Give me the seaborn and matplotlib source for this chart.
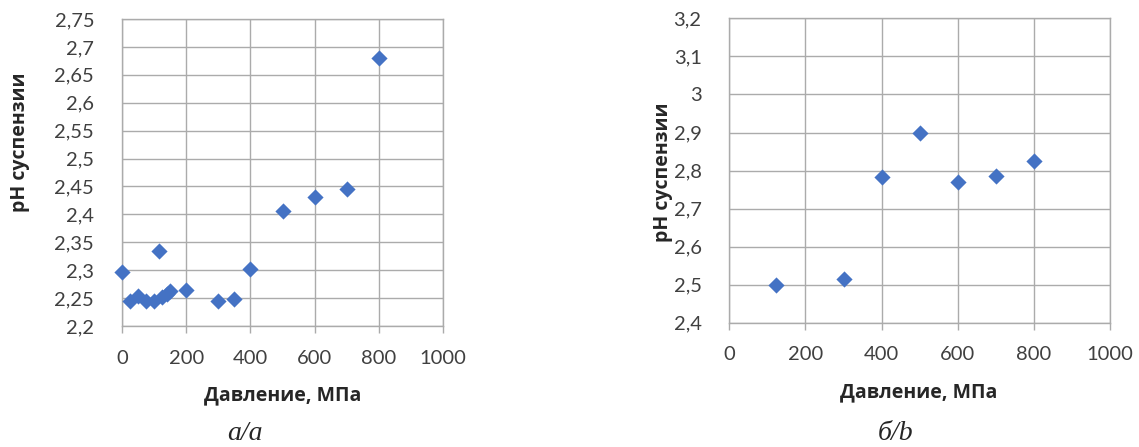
import matplotlib
matplotlib.use("Agg")
import matplotlib.pyplot as plt
import seaborn as sns
import pandas as pd
import numpy as np

# Data panel a
pressure_a = [0, 25, 50, 75, 100, 115, 125, 140, 150, 200, 300, 350, 400, 500, 600, 700, 800]
ph_a = [2.297, 2.244, 2.253, 2.244, 2.244, 2.334, 2.252, 2.258, 2.263, 2.264, 2.244, 2.248, 2.303, 2.406, 2.431, 2.446, 2.681]
# Data panel b
pressure_b = [122, 300, 400, 500, 600, 700, 800]
ph_b = [2.499, 2.514, 2.783, 2.900, 2.771, 2.786, 2.825]

yticks_a = [2.2, 2.25, 2.3, 2.35, 2.4, 2.45, 2.5, 2.55, 2.6, 2.65, 2.7, 2.75]
ytick_labels_a = ["2,2", "2,25", "2,3", "2,35", "2,4", "2,45", "2,5", "2,55", "2,6", "2,65", "2,7", "2,75"]
yticks_b = [2.4, 2.5, 2.6, 2.7, 2.8, 2.9, 3.0, 3.1, 3.2]
ytick_labels_b = ["2,4", "2,5", "2,6", "2,7", "2,8", "2,9", "3", "3,1", "3,2"]
xticks = [0, 200, 400, 600, 800, 1000]
xlabel = "Давление, МПа"
ylabel = "pH суспензии"
captions = ["а/a", "б/b"]

sns.set_style("white")
plt.rcParams['font.family'] = ['Lato', 'Open Sans', 'DejaVu Sans']

fig = plt.figure(figsize=(11.39, 4.47), dpi=100)
ax1 = fig.add_axes([122/1139, 1-326/447, 321/1139, 307/447])
ax2 = fig.add_axes([729.3/1139, 1-322.7/447, 380.7/1139, 304.3/447])

color = "#4472C4"
grid_c = "#ababab"

df_a = pd.DataFrame({"x": pressure_a, "y": ph_a})
df_b = pd.DataFrame({"x": pressure_b, "y": ph_b})

specs = [
    (ax1, df_a, yticks_a, ytick_labels_a, (-0.287, 0.599), (0.50, -0.192)),
    (ax2, df_b, yticks_b, ytick_labels_b, (-0.148, 0.495), (0.498, -0.195)),
]
for ax, df, yt, ytl, ylc, xlc in specs:
    sns.scatterplot(data=df, x="x", y="y", ax=ax, marker="D", s=68, color=color,
                    linewidth=0, zorder=3, clip_on=False)
    ax.set_xlim(0, 1000)
    ax.set_ylim(yt[0], yt[-1])
    ax.set_xticks(xticks)
    ax.set_xticklabels([str(t) for t in xticks])
    ax.set_yticks(yt)
    ax.set_yticklabels(ytl)
    ax.grid(True, color=grid_c, linewidth=1.0)
    ax.set_axisbelow(True)
    for sp in ax.spines.values():
        sp.set_color(grid_c)
        sp.set_linewidth(1.0)
    ax.tick_params(axis="x", which="both", bottom=True, length=5, width=1.0,
                   color=grid_c, pad=12, labelsize=14.5, labelcolor="#404040")
    ax.tick_params(axis="y", which="both", left=False, length=0, pad=20,
                   labelsize=14.5, labelcolor="#404040")
    ax.set_xlabel(xlabel, fontsize=14, fontweight="bold", family="Open Sans", color="#262626")
    ax.set_ylabel(ylabel, fontsize=14, fontweight="bold", family="Open Sans", color="#262626")
    ax.yaxis.set_label_coords(*ylc)
    ax.xaxis.set_label_coords(*xlc)

fig.text(245/1139, 1-433/447, captions[0], ha="center", va="center",
         fontsize=20, style="italic", family="Liberation Serif")
fig.text(896/1139, 1-433/447, captions[1], ha="center", va="center",
         fontsize=20, style="italic", family="Liberation Serif")

fig.savefig("out.png", dpi=100)
